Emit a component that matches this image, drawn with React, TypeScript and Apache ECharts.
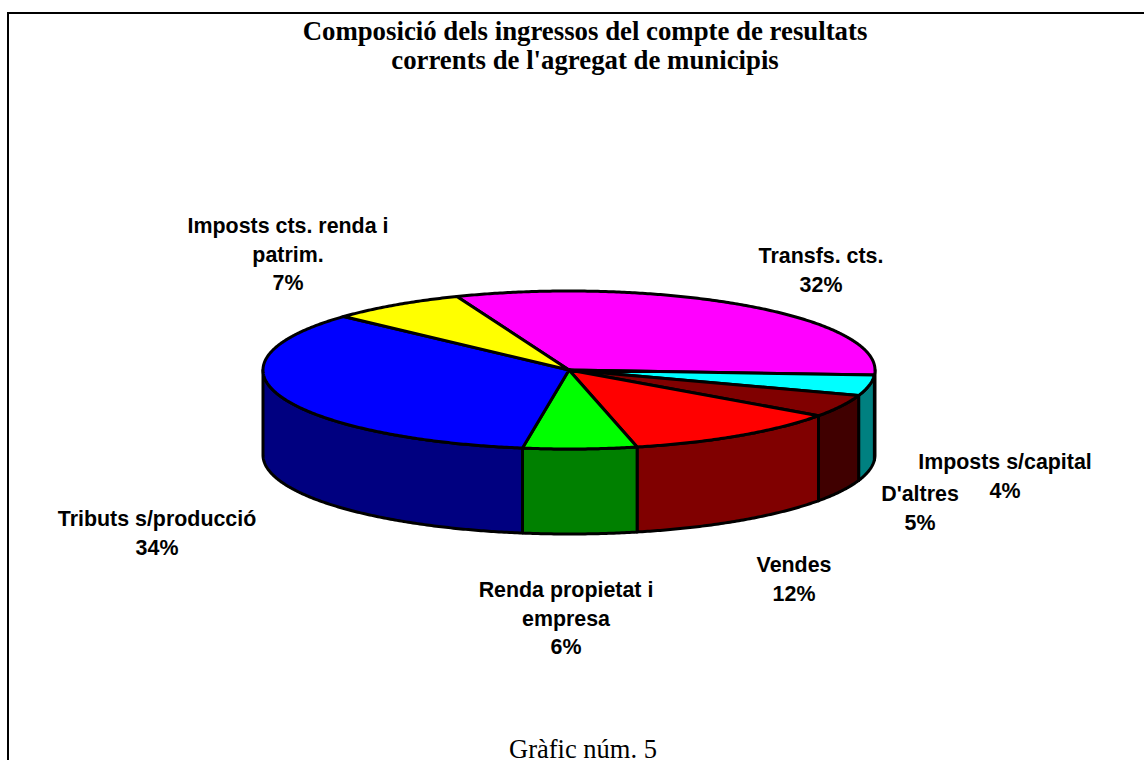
import React, { useEffect, useRef } from "react";
import * as echarts from "echarts";

const categories = [
  "Transfs. cts.",
  "Imposts s/capital",
  "D'altres",
  "Vendes",
  "Renda propietat i\nempresa",
  "Tributs s/producció",
  "Imposts cts. renda i\npatrim.",
];
const shares = [32.0, 4.2, 4.6, 11.6, 6.0, 34.4, 7.2];
const topColors = ["#FF00FF", "#00FFFF", "#800000", "#FF0000", "#00FF00", "#0000FF", "#FFFF00"];
const sideColors = ["#800080", "#008080", "#400000", "#800000", "#008000", "#000080", "#808000"];
const labelCentres = [
  [821, 242],
  [1005, 448],
  [920, 480],
  [794, 551],
  [566, 576],
  [157, 505],
  [288, 212],
];

const titleText = "Composició dels ingressos del compte de resultats\ncorrents de l'agregat de municipis";
const footerText = "Gràfic núm. 5";

const CX = 569;
const CY = 370;
const RX = 306;
const RY = 79;
const DEPTH = 85;
const START_DEG = 111.5;
const total = shares.reduce((a, b) => a + b, 0);

function sliceAngles(i: number): [number, number] {
  let before = 0;
  for (let k = 0; k < i; k++) before += shares[k];
  const a0 = START_DEG - (before / total) * 360;
  return [a0, a0 - (shares[i] / total) * 360];
}

function pt(deg: number, dy = 0): number[] {
  const t = (deg * Math.PI) / 180;
  return [CX + RX * Math.cos(t), CY - RY * Math.sin(t) + dy];
}

function arc(from: number, to: number, dy = 0): number[][] {
  const n = Math.max(2, Math.ceil(Math.abs(from - to) * 2));
  const out: number[][] = [];
  for (let k = 0; k <= n; k++) out.push(pt(from + ((to - from) * k) / n, dy));
  return out;
}

const stroke = { stroke: "#000", lineWidth: 3, lineJoin: "round" as const };

function renderWall(params: any) {
  const i = params.dataIndex;
  const [a0, a1] = sliceAngles(i);
  const children: any[] = [];
  // the visible front half of the rim lies between 0 and -180 degrees (mod 360)
  for (const shift of [0, -360]) {
    const from = Math.min(a0 + shift, 0);
    const to = Math.max(a1 + shift, -180);
    if (from > to) {
      children.push({
        type: "polygon",
        shape: { points: [...arc(from, to), ...arc(to, from, DEPTH)] },
        style: { fill: sideColors[i], ...stroke },
      });
    }
  }
  return { type: "group", children };
}

function renderTop(params: any, api: any) {
  const i = params.dataIndex;
  const [a0, a1] = sliceAngles(i);
  const share = api.value(0);
  const [lx, ly] = labelCentres[i];
  return {
    type: "group",
    children: [
      {
        type: "polygon",
        shape: { points: [[CX, CY], ...arc(a0, a1)] },
        style: { fill: topColors[i], ...stroke },
      },
      {
        type: "text",
        x: lx,
        y: ly,
        style: {
          text: `${categories[i]}\n${Math.round(share)}%`,
          fill: "#000",
          align: "center",
          verticalAlign: "top",
          font: 'bold 21.4px "Liberation Sans", Arial, sans-serif',
          lineHeight: 28.5,
        },
      },
    ],
  };
}

export default function App() {
  const ref = useRef<HTMLDivElement>(null);
  useEffect(() => {
    document.body.style.margin = "0";
    const chart = echarts.init(ref.current!, undefined, { renderer: "svg" });
    chart.setOption({
      animation: false,
      backgroundColor: "#fff",
      title: [
        {
          text: titleText,
          left: 580,
          top: 11,
          textAlign: "center",
          textStyle: {
            fontFamily: '"Liberation Serif", "Times New Roman", serif',
            fontWeight: "bold",
            fontSize: 26.8,
            lineHeight: 29,
            color: "#000",
          },
        },
        {
          text: footerText,
          left: 578,
          top: 730,
          textAlign: "center",
          textStyle: {
            fontFamily: '"Liberation Serif", "Times New Roman", serif',
            fontWeight: "normal",
            fontSize: 26.5,
            color: "#000",
          },
        },
      ],
      graphic: [
        {
          type: "polyline",
          shape: { points: [[8, 760], [8, 13], [1144, 13]] },
          style: { stroke: "#000", lineWidth: 2, fill: "none" },
          silent: true,
        },
      ],
      series: [
        {
          type: "custom",
          coordinateSystem: "none",
          renderItem: renderWall,
          data: shares.map((v) => [v]),
          z: 1,
          silent: true,
        },
        {
          type: "custom",
          coordinateSystem: "none",
          renderItem: renderTop,
          data: shares.map((v) => [v]),
          z: 2,
          silent: true,
        },
      ],
    });
    return () => chart.dispose();
  }, []);
  return (
    <div
      ref={ref}
      style={{ position: "fixed", left: 0, top: 0, width: 1144, height: 760 }}
    />
  );
}
